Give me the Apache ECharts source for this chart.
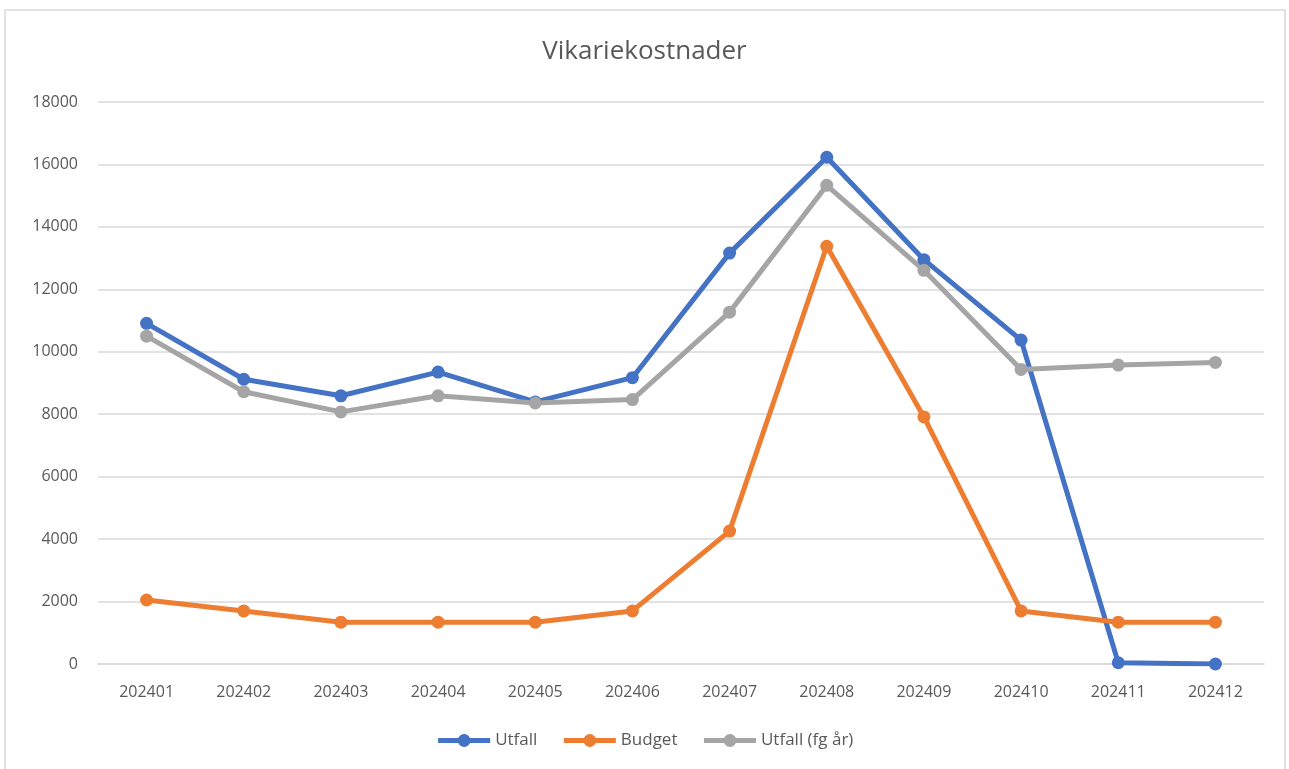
<!DOCTYPE html>
<html>
<head>
<meta charset="utf-8">
<title>Vikariekostnader</title>
<script src="https://cdn.jsdelivr.net/npm/echarts@6/dist/echarts.min.js"></script>
<style>
  html, body { margin: 0; padding: 0; background: #fff; }
  #chart { width: 1289px; height: 769px; }
</style>
</head>
<body>
<div id="chart"></div>
<script>
var months = ['202401', '202402', '202403', '202404', '202405', '202406',
              '202407', '202408', '202409', '202410', '202411', '202412'];
var utfall = [10910, 9120, 8590, 9350, 8395, 9170, 13160, 16230, 12950, 10375, 40, 0];
var budget = [2050, 1700, 1340, 1340, 1340, 1700, 4256, 13380, 7913, 1700, 1340, 1340];
var utfallFg = [10500, 8720, 8075, 8590, 8360, 8470, 11270, 15330, 12610, 9436, 9575, 9660];

var textColor = '#595959';
var font = '"Open Sans", "Noto Sans", sans-serif';

function lineSeries(name, data, color) {
    return {
        name: name,
        type: 'line',
        data: data,
        symbol: 'circle',
        symbolSize: 13,
        lineStyle: { color: color, width: 5 },
        itemStyle: { color: color },
        emphasis: { disabled: true }
    };
}

var chart = echarts.init(document.getElementById('chart'));
var option = {
    animation: false,
    textStyle: { fontFamily: font },
    title: {
        text: 'Vikariekostnader',
        left: 'center',
        top: 34,
        textStyle: { fontSize: 26, fontWeight: 'normal', color: textColor, fontFamily: font }
    },
    graphic: [{
        type: 'rect',
        shape: { x: 5, y: 10, width: 1280, height: 770 },
        style: { fill: 'none', stroke: '#d9d9d9', lineWidth: 1.5 },
        silent: true,
        z: -1
    }],
    legend: {
        bottom: 15,
        left: 'center',
        itemWidth: 52,
        itemHeight: 16,
        itemGap: 24,
        lineStyle: { width: 5 },
        textStyle: { fontSize: 17, color: textColor, fontFamily: font },
        data: ['Utfall', 'Budget', 'Utfall (fg år)']
    },
    grid: { left: 98, right: 25, top: 102, bottom: 105 },
    xAxis: {
        type: 'category',
        data: months,
        boundaryGap: true,
        axisLine: { lineStyle: { color: '#d9d9d9', width: 1.5 } },
        axisTick: { show: false },
        axisLabel: { fontSize: 16, color: textColor, margin: 20 }
    },
    yAxis: {
        type: 'value',
        min: 0,
        max: 18000,
        interval: 2000,
        axisLine: { show: false },
        axisTick: { show: false },
        axisLabel: { fontSize: 16, color: textColor, margin: 20, formatter: function (v) { return String(v); } },
        splitLine: { lineStyle: { color: '#d9d9d9', width: 1.5 } }
    },
    series: [
        lineSeries('Utfall', utfall, '#4472C4'),
        lineSeries('Budget', budget, '#ED7D31'),
        lineSeries('Utfall (fg år)', utfallFg, '#A5A5A5')
    ]
};
chart.setOption(option);
window.onresize = chart.resize;
</script>
</body>
</html>
